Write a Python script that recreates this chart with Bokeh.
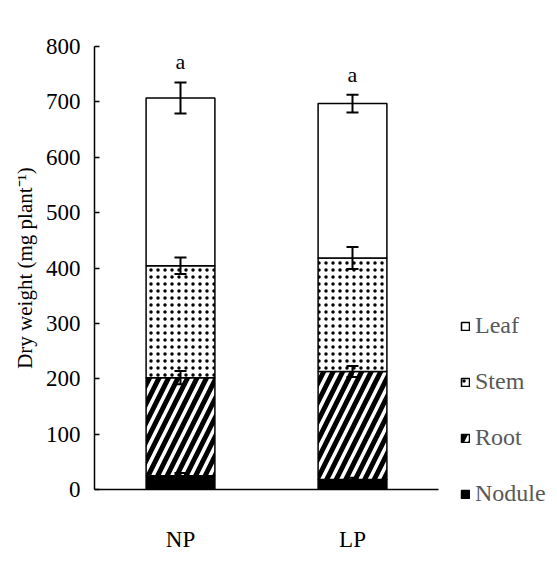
from bokeh.plotting import figure
from bokeh.models import (ColumnDataSource, Whisker, TeeHead, Legend, LegendItem,
                          LabelSet, FixedTicker)
from bokeh.embed import file_html
from bokeh.resources import INLINE

# ---- data ----
treatments = ["NP", "LP"]
nodule = [25, 18]
root = [177, 195]
stem = [202, 205]
leaf = [303, 279]
nodule_err = [5, 3]
root_err = [12, 10]
stem_err = [15, 20]
leaf_err = [28, 16]
letters = ["a", "a"]
y_ticks = [0, 100, 200, 300, 400, 500, 600, 700, 800]

FONT = "'Liberation Serif', 'Times New Roman', serif"

# cumulative stacks
n_top = nodule[:]
r_top = [a + b for a, b in zip(n_top, root)]
s_top = [a + b for a, b in zip(r_top, stem)]
l_top = [a + b for a, b in zip(s_top, leaf)]

src = ColumnDataSource(dict(
    x=treatments,
    n0=[0, 0], n1=n_top,
    r0=n_top, r1=r_top,
    s0=r_top, s1=s_top,
    l0=s_top, l1=l_top,
    n_lo=[t - e for t, e in zip(n_top, nodule_err)], n_hi=[t + e for t, e in zip(n_top, nodule_err)],
    r_lo=[t - e for t, e in zip(r_top, root_err)], r_hi=[t + e for t, e in zip(r_top, root_err)],
    s_lo=[t - e for t, e in zip(s_top, stem_err)], s_hi=[t + e for t, e in zip(s_top, stem_err)],
    l_lo=[t - e for t, e in zip(l_top, leaf_err)], l_hi=[t + e for t, e in zip(l_top, leaf_err)],
    letter=letters,
))

p = figure(x_range=treatments, y_range=(0, 800),
           frame_width=344, frame_height=443,
           min_border_left=94, min_border_right=103,
           min_border_top=46, min_border_bottom=56,
           output_backend="svg", toolbar_location=None)
p.outline_line_color = None
p.xgrid.visible = False
p.ygrid.visible = False
p.background_fill_color = "white"

W = 0.4
r_nod = p.vbar(x="x", bottom="n0", top="n1", width=W, source=src,
               fill_color="black", line_color="black", line_width=1.5)
r_root = p.vbar(x="x", bottom="r0", top="r1", width=W, source=src,
                fill_color="white", line_color="black", line_width=1.5,
                hatch_pattern="/", hatch_color="black", hatch_weight=5, hatch_scale=19)
r_stem = p.vbar(x="x", bottom="s0", top="s1", width=W, source=src,
                fill_color="white", line_color="black", line_width=1.5,
                hatch_pattern=".", hatch_color="black", hatch_weight=2.2, hatch_scale=7)
r_leaf = p.vbar(x="x", bottom="l0", top="l1", width=W, source=src,
                fill_color="white", line_color="black", line_width=1.5)

for lo, hi in [("n_lo", "n_hi"), ("r_lo", "r_hi"), ("s_lo", "s_hi"), ("l_lo", "l_hi")]:
    w = Whisker(base="x", lower=lo, upper=hi, source=src, line_color="black", line_width=2,
                level="overlay",
                upper_head=TeeHead(size=12, line_width=2, line_color="black"),
                lower_head=TeeHead(size=12, line_width=2, line_color="black"))
    p.add_layout(w)

labels = LabelSet(x="x", y="l_hi", text="letter", source=src, y_offset=8,
                  text_align="center", text_baseline="bottom",
                  text_font=FONT, text_font_size="22px", text_color="black")
p.add_layout(labels)

# axes
p.yaxis.ticker = FixedTicker(ticks=y_ticks)
p.yaxis.minor_tick_line_color = None
p.yaxis.major_tick_in = 5
p.yaxis.major_tick_out = 0
p.yaxis.major_label_standoff = 14
p.yaxis.axis_label = "Dry weight (mg plant\u207b\u00b9)"
p.yaxis.axis_label_standoff = 6
p.xaxis.major_tick_in = 0
p.xaxis.major_tick_out = 0
p.xaxis.major_label_standoff = 37
for ax in (p.xaxis, p.yaxis):
    ax.axis_line_color = "black"
    ax.axis_line_width = 1.5
    ax.major_tick_line_color = "black"
    ax.major_tick_line_width = 1.5
    ax.major_label_text_font = FONT
    ax.major_label_text_font_size = "23px"
    ax.major_label_text_color = "black"
    ax.axis_label_text_font = FONT
    ax.axis_label_text_font_size = "21px"
    ax.axis_label_text_font_style = "normal"
    ax.axis_label_text_color = "black"

legend = Legend(items=[
    LegendItem(label="Leaf", renderers=[r_leaf]),
    LegendItem(label="Stem", renderers=[r_stem]),
    LegendItem(label="Root", renderers=[r_root]),
    LegendItem(label="Nodule", renderers=[r_nod]),
], location=(22, -18))
legend.glyph_width = 10
legend.glyph_height = 10
legend.label_standoff = 5
legend.label_height = 22
legend.spacing = 29
legend.padding = 0
legend.margin = 0
legend.border_line_color = None
legend.background_fill_alpha = 0
legend.label_text_font = FONT
legend.label_text_font_size = "24px"
legend.label_text_color = "#595959"
p.add_layout(legend, "right")

open("out.html", "w").write(file_html(p, INLINE))
